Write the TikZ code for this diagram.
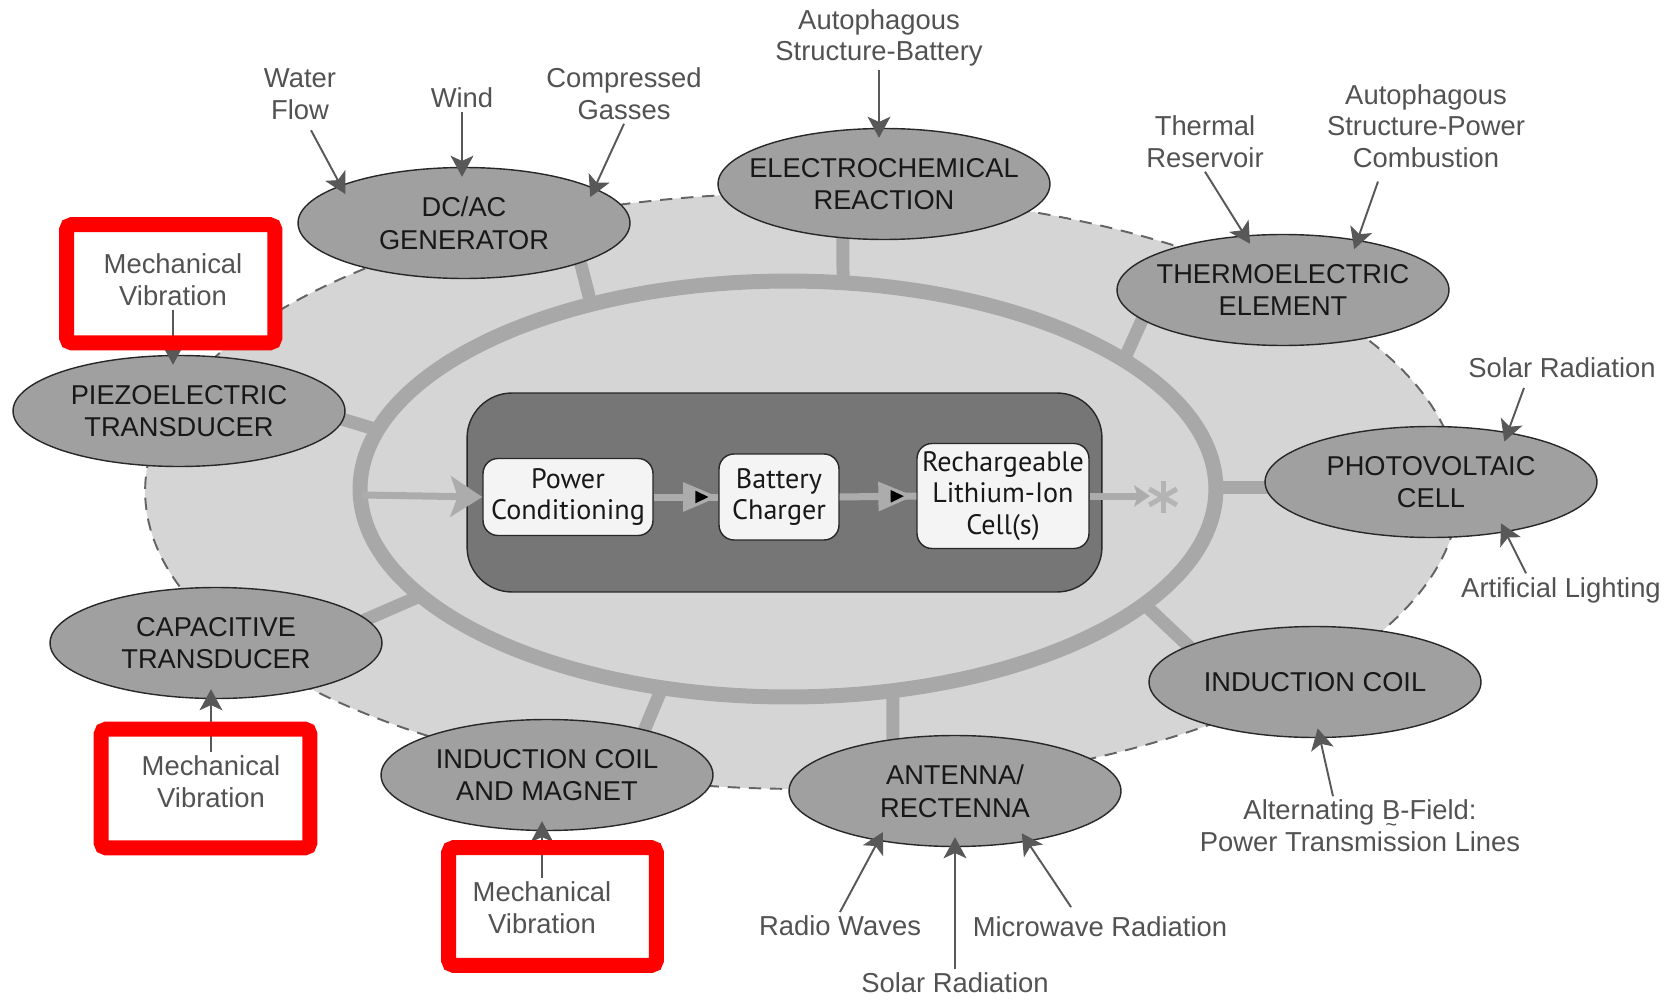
\documentclass[tikz,border=0pt]{standalone}
\usepackage{fontspec}
\setmainfont{Liberation Sans}
\newfontfamily\boxfont{PT Sans}
\usetikzlibrary{arrows.meta,calc,shapes.geometric,decorations.markings,backgrounds}
\definecolor{ink}{RGB}{24,24,24}
\definecolor{labelgray}{RGB}{82,82,82}
\definecolor{arrowgray}{RGB}{88,88,88}
\definecolor{bggray}{RGB}{213,213,213}
\definecolor{ringgray}{RGB}{168,168,168}
\definecolor{nodegray}{RGB}{160,160,160}
\definecolor{coregray}{RGB}{118,118,118}
\definecolor{boxwhite}{RGB}{244,244,244}
\definecolor{edgeink}{RGB}{40,40,40}
\definecolor{dashgray}{RGB}{100,100,100}
\definecolor{pipegray}{RGB}{172,172,172}
\definecolor{markred}{RGB}{255,0,0}
\newcommand{\tildeunder}[1]{\setbox0\hbox{#1}\makebox[0pt][l]{\makebox[\wd0]{\raisebox{-6.8pt}[0pt][0pt]{\fontsize{11.5}{11.5}\selectfont\char"7E}}}#1}

\begin{document}
\begin{tikzpicture}[
  x=0.02cm, y=-0.02cm,
  font=\fontsize{15.5}{18.6}\selectfont,
  src/.style={ellipse, draw=edgeink, line width=0.8pt, fill=nodegray, text=ink, align=center,
    minimum width=6.64cm, minimum height=2.22cm, inner xsep=-16pt, inner ysep=0pt},
  feed/.style={align=center, text=labelgray, inner sep=2pt, font=\fontsize{15.6}{18}\selectfont},
  feedarrow/.style={-{Stealth[length=12pt, width=13pt, inset=3pt]}, draw=arrowgray, line width=1.1pt, shorten >=-0.2cm},
  shell/.style={fill=bggray, draw=dashgray, line width=1.1pt, dash pattern=on 7pt off 5pt},
  spoke/.style={draw=ringgray, line width=0.26cm, shorten >=-0.3cm},
  ring/.style={draw=ringgray, line width=0.3cm},
  core/.style={draw=edgeink, fill=coregray, rounded corners=0.9cm, line width=0.8pt},
  stage/.style={draw=edgeink, fill=boxwhite, rounded corners=0.3cm, line width=0.8pt, align=center,
    inner sep=0pt, text=ink, font=\boxfont\fontsize{16}{18}\selectfont},
  pipe/.style={draw=pipegray, line width=0.14cm},
  stagemark/.style={postaction={decorate}, decoration={markings, mark=at position 0.78 with {
      \fill[pipegray] (-12pt,-8.5pt) -- (8pt,0pt) -- (-12pt,8.5pt) -- cycle;
      \fill[black] (-5pt,-3.6pt) -- (2.5pt,0pt) -- (-5pt,3.6pt) -- cycle;}}},
  star/.style={draw=pipegray!90, line width=0.1cm},
  blank/.style={fill=white, inner sep=0pt},
  redbox/.style={draw=markred, line width=0.3cm, rounded corners=0.1cm},
]
\useasboundingbox (0,0) rectangle (1677,1000);

% ------------------------------------------------------------------ harvesters
\node[src] (dcac)    at (464,223)  {DC/AC\\GENERATOR};
\node[src] (echem)   at (884,184)  {ELECTROCHEMICAL\\REACTION};
\node[src] (thermo)  at (1283,290) {THERMOELECTRIC\\ELEMENT};
\node[src] (piezo)   at (179,411)  {PIEZOELECTRIC\\TRANSDUCER};
\node[src] (pv)      at (1431,482) {PHOTOVOLTAIC\\CELL};
\node[src] (cap)     at (216,643)  {CAPACITIVE\\TRANSDUCER};
\node[src] (indc)    at (1315,682) {INDUCTION COIL};
\node[src] (magnet)  at (547,775)  {INDUCTION COIL\\AND MAGNET};
\node[src] (antenna) at (955,791)  {ANTENNA/\\RECTENNA};

% ------------------------------------------------------------------ shell, ring and spokes
\begin{scope}[on background layer]
  \draw[shell] (802,491) ellipse [x radius=13.14cm, y radius=5.96cm];
  \coordinate (hub) at (788,489);
  \coordinate (s1) at (591,304);
  \coordinate (s2) at (843,283);
  \coordinate (s3) at (1124,360);
  \coordinate (s4) at (378,430);
  \coordinate (s5) at (1216,487);
  \coordinate (s6) at (420,596);
  \coordinate (s7) at (1144,604);
  \coordinate (s8) at (662,688);
  \coordinate (s9) at (893,691);
  \draw[spoke] (s1) -- (dcac.-19);
  \draw[spoke] (s2) -- (echem.-127);
  \draw[spoke] (s3) -- (thermo.192);
  \draw[spoke] (s4) -- (piezo.-3);
  \draw[spoke] (s5) -- (s5 -| pv.west);
  \draw[spoke] (s6) -- (cap.9);
  \draw[spoke] (s7) -- (indc.164);
  \draw[spoke] (s8) -- (magnet.25);
  \draw[spoke] (s9) -- (antenna.140);
  \draw[ring] (hub) ellipse [x radius=8.56cm, y radius=4.16cm];
\end{scope}

% white ground of the marked labels
\node[blank, minimum width=4.15cm, minimum height=2.35cm] (rb1) at (170.75,283.75) {};
\node[blank, minimum width=4.16cm, minimum height=2.36cm] (rb2) at (205.5,788.5) {};
\node[blank, minimum width=4.14cm, minimum height=2.34cm] (rb3) at (552.5,906.5) {};

% ------------------------------------------------------------------ storage chain
\node[core, minimum width=12.7cm, minimum height=3.98cm] (store) at (784.5,492.5) {};
\node[stage, minimum width=3.4cm, minimum height=1.54cm] (pc) at (568,497) {Power\\Conditioning};
\node[stage, minimum width=2.4cm, minimum height=1.72cm] (bc) at (779,497) {Battery\\Charger};
\node[stage, minimum width=3.44cm, minimum height=2.1cm] (li) at (1003,496) {Rechargeable\\Lithium-Ion\\Cell(s)};

\coordinate (feedin) at (362,495);
\coordinate (out) at (1150,496);
\coordinate (load) at (1163,497);
\draw[pipe, -{Stealth[length=18pt, width=23pt, inset=4pt]}] (feedin) -- (pc.west);
\draw[pipe, stagemark] (pc.east) -- (bc.west);
\draw[pipe, stagemark] (bc.east) -- (li.west);
\draw[pipe, -{Stealth[length=9pt, width=12pt, inset=2pt]}] (li.east) -- (out);
\foreach \a in {90,30,-30}
  \draw[star] ($(load)+(\a:16)$) -- ($(load)+(\a+180:16)$);

% ------------------------------------------------------------------ sources
\node[feed] (water)    at (300,94)   {Water\\Flow};
\node[feed] (wind)     at (462,98)   {Wind};
\node[feed] (gasses)   at (624,94)   {Compressed\\Gasses};
\node[feed] (autob)    at (879,38)   {Autophagous\\Structure-Battery};
\node[feed] (thermal)  at (1205,142) {Thermal\\Reservoir};
\node[feed] (autop)    at (1426,126) {Autophagous\\Structure-Power\\Combustion};
\node[feed] (solarpv)  at (1562,368) {Solar Radiation};
\node[feed] (light)    at (1561,590) {Artificial Lighting};
\node[feed] (bfield)   at (1360,826) {Alternating \tildeunder{B}-Field:\\Power Transmission Lines};
\node[feed] (radio)    at (840,926)  {Radio Waves};
\node[feed] (micro)    at (1100,927) {Microwave Radiation};
\node[feed] (solarant) at (955,983)  {Solar Radiation};
\node[feed] (mv1)      at (173,280)  {Mechanical\\Vibration};
\node[feed] (mv2)      at (211,782)  {Mechanical\\Vibration};
\node[feed] (mv3)      at (542,908)  {Mechanical\\Vibration};

\draw[feedarrow] ($(water.south)+(11,7)$) -- (dcac.163);
\draw[feedarrow] (wind.south) -- (wind.south |- dcac.north);
\draw[feedarrow] (gasses.south) -- (dcac.15);
\draw[feedarrow] (autob.south) -- (autob.south |- echem.north);
\draw[feedarrow] (thermal.south) -- (thermo.125);
\draw[feedarrow] ($(autop.south)+(-48,10)$) -- (thermo.34);
\draw[feedarrow] ($(solarpv.south)+(-38,6)$) -- (pv.33);
\draw[feedarrow] ($(light.north)+(-35,0)$) -- (pv.-34);
\draw[feedarrow] ($(bfield.north)+(-27,0)$) -- (indc.-85);
\draw[feedarrow] (radio.north) -- (antenna.-147);
\draw[feedarrow] (solarant.north) -- (antenna.south);
\draw[feedarrow] ($(micro.north)+(-29,-6)$) -- (antenna.-35);
\draw[feedarrow] (mv1.south) -- (mv1.south |- piezo.north);
\draw[feedarrow] (mv2.north) -- (mv2.north |- cap.south);
\draw[feedarrow] (mv3.north) -- (mv3.north |- magnet.south);

% ------------------------------------------------------------------ marks
\foreach \b in {rb1,rb2,rb3}
  \draw[redbox] (\b.south west) rectangle (\b.north east);
\end{tikzpicture}
\end{document}
